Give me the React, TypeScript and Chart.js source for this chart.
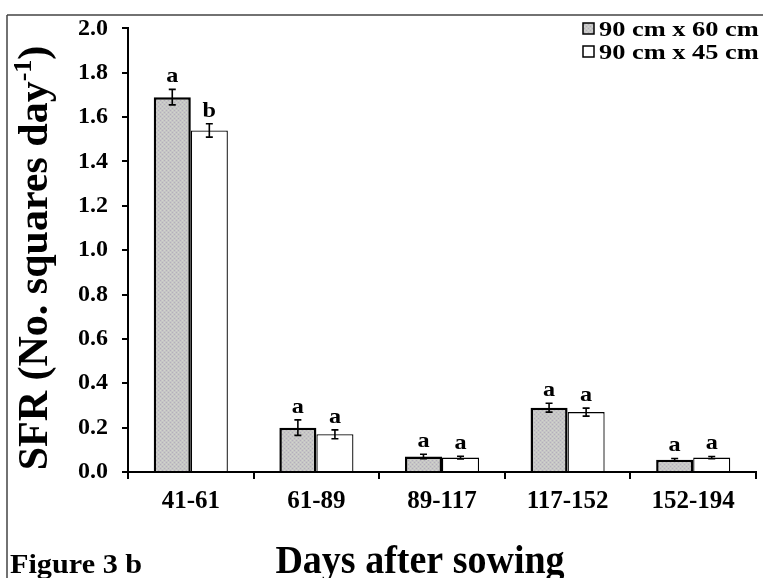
import React, { useEffect, useRef } from "react";
import { Chart, registerables } from "chart.js";

Chart.register(...registerables);

const categories = ["41-61", "61-89", "89-117", "117-152", "152-194"];
const seriesNames = ["90 cm x 60 cm", "90 cm x 45 cm"];
const wide = [1.69, 0.2, 0.07, 0.29, 0.055];
const narrow = [1.54, 0.17, 0.065, 0.27, 0.065];
const wideErr = [0.035, 0.035, 0.01, 0.02, 0.006];
const narrowErr = [0.03, 0.02, 0.006, 0.018, 0.005];
const wideLetters = ["a", "a", "a", "a", "a"];
const narrowLetters = ["b", "a", "a", "a", "a"];
const yTicks = [0, 0.2, 0.4, 0.6, 0.8, 1.0, 1.2, 1.4, 1.6, 1.8, 2.0];

const SERIF = '"Liberation Serif", "Times New Roman", serif';

function makePattern(): CanvasPattern | string {
  const c = document.createElement("canvas");
  c.width = 4;
  c.height = 4;
  const g = c.getContext("2d");
  if (!g) return "#c0c0c0";
  g.fillStyle = "#c6c6c6";
  g.fillRect(0, 0, 4, 4);
  g.fillStyle = "#b4aebb";
  g.fillRect(0, 0, 1, 1);
  g.fillRect(2, 2, 1, 1);
  g.fillStyle = "#d2d5cb";
  g.fillRect(2, 0, 1, 1);
  g.fillRect(0, 2, 1, 1);
  const p = g.createPattern(c, "repeat");
  return p || "#c0c0c0";
}

function stretchedText(
  ctx: CanvasRenderingContext2D,
  text: string,
  x: number,
  y: number,
  sx: number,
  align: "left" | "center"
) {
  ctx.save();
  ctx.translate(x, y);
  ctx.scale(sx, 1);
  ctx.textAlign = align;
  ctx.fillText(text, 0, 0);
  ctx.restore();
}

const extrasPlugin = {
  id: "extras",
  afterDraw(chart: any) {
    const ctx = chart.ctx as CanvasRenderingContext2D;
    const y = chart.scales.y;
    const errs = [wideErr, narrowErr];
    const letters = [wideLetters, narrowLetters];
    const vals = [wide, narrow];
    ctx.save();
    // error bars and letters
    for (let d = 0; d < 2; d++) {
      const meta = chart.getDatasetMeta(d);
      meta.data.forEach((bar: any, i: number) => {
        const v = vals[d][i];
        const e = errs[d][i];
        const yt = y.getPixelForValue(v + e);
        const yb = y.getPixelForValue(v - e);
        const x = bar.x;
        ctx.strokeStyle = "#000";
        ctx.lineWidth = 1.6;
        ctx.beginPath();
        ctx.moveTo(x, yt);
        ctx.lineTo(x, yb);
        ctx.moveTo(x - 3.5, yt);
        ctx.lineTo(x + 3.5, yt);
        ctx.moveTo(x - 3.5, yb);
        ctx.lineTo(x + 3.5, yb);
        ctx.stroke();
        ctx.fillStyle = "#000";
        ctx.font = `bold 22px ${SERIF}`;
        ctx.textBaseline = "alphabetic";
        stretchedText(ctx, letters[d][i], x, yt - 7, 1.1, "center");
      });
    }
    // frame lines
    ctx.strokeStyle = "#444";
    ctx.lineWidth = 1.5;
    ctx.beginPath();
    ctx.moveTo(7, 15);
    ctx.lineTo(763, 15);
    ctx.moveTo(7, 15);
    ctx.lineTo(7, 578);
    ctx.stroke();

    // legend
    const fills = [chart.data.datasets[0].backgroundColor, "#ffffff"];
    ctx.font = `bold 22px ${SERIF}`;
    ctx.textBaseline = "alphabetic";
    for (let k = 0; k < 2; k++) {
      const top = 23 + k * 23;
      ctx.fillStyle = fills[k];
      ctx.fillRect(583, top, 11, 11);
      ctx.strokeStyle = "#000";
      ctx.lineWidth = 1.5;
      ctx.strokeRect(583, top, 11, 11);
      ctx.fillStyle = "#000";
      stretchedText(ctx, seriesNames[k], 599, top + 13, 1.2, "left");
    }

    // y title (rotated, with superscript)
    ctx.save();
    ctx.translate(47, 258);
    ctx.rotate(-Math.PI / 2);
    const big = `bold 42px ${SERIF}`;
    const small = `bold 26px ${SERIF}`;
    const p1 = "SFR (No. squares day";
    const p2 = "-1";
    const p3 = ")";
    ctx.font = big;
    const w1 = ctx.measureText(p1).width;
    const w3 = ctx.measureText(p3).width;
    ctx.font = small;
    const w2 = ctx.measureText(p2).width;
    const total = w1 + w2 + w3;
    let cx = -total / 2;
    ctx.fillStyle = "#000";
    ctx.textAlign = "left";
    ctx.font = big;
    ctx.fillText(p1, cx, 0);
    cx += w1;
    ctx.font = small;
    ctx.fillText(p2, cx, -16);
    cx += w2;
    ctx.font = big;
    ctx.fillText(p3, cx, 0);
    ctx.restore();

    // x title
    ctx.fillStyle = "#000";
    ctx.font = `bold 40px ${SERIF}`;
    stretchedText(ctx, "Days after sowing", 420, 573, 0.95, "center");

    // figure label
    ctx.font = `bold 28px ${SERIF}`;
    stretchedText(ctx, "Figure 3 b", 10, 573, 1.08, "left");
    ctx.restore();
  },
};

export default function App() {
  const ref = useRef<HTMLCanvasElement | null>(null);
  useEffect(() => {
    if (!ref.current) return;
    const pattern = makePattern();
    const chart = new Chart(ref.current, {
      type: "bar",
      data: {
        labels: categories,
        datasets: [
          {
            label: seriesNames[0],
            data: wide,
            backgroundColor: pattern as any,
            borderColor: "#000",
            borderWidth: 2.5,
            categoryPercentage: 0.59,
            barPercentage: 1.0,
          },
          {
            label: seriesNames[1],
            data: narrow,
            backgroundColor: "#ffffff",
            borderColor: "#000",
            borderWidth: 1.3,
            categoryPercentage: 0.59,
            barPercentage: 1.0,
          },
        ],
      },
      options: {
        responsive: false,
        animation: false,
        layout: { padding: { top: 28, right: 7, left: 0, bottom: 0 } },
        plugins: { legend: { display: false }, tooltip: { enabled: false } },
        scales: {
          x: {
            grid: {
              display: true,
              drawOnChartArea: false,
              drawTicks: true,
              tickLength: 7,
              color: "#000",
              lineWidth: 2,
              offset: true,
            },
            border: { display: true, color: "#000", width: 2 },
            ticks: {
              color: "#000",
              font: { family: SERIF, size: 25, weight: "bold" },
              padding: 8,
              maxRotation: 0,
            },
            afterFit: (s: any) => {
              s.height = 106;
            },
          },
          y: {
            min: 0,
            max: 2,
            afterBuildTicks: (s: any) => {
              s.ticks = yTicks.map((v) => ({ value: v }));
            },
            grid: {
              display: true,
              drawOnChartArea: false,
              drawTicks: true,
              tickLength: 6,
              color: "#000",
              lineWidth: 2,
            },
            border: { display: true, color: "#000", width: 2 },
            ticks: {
              color: "#000",
              font: { family: SERIF, size: 24, weight: "bold" },
              padding: 14,
              callback: (v: any) => Number(v).toFixed(1),
            },
            afterFit: (s: any) => {
              s.width = 128;
            },
          },
        },
      },
      plugins: [extrasPlugin],
    });
    return () => chart.destroy();
  }, []);
  return (
    <div style={{ position: "fixed", left: 0, top: 0, width: 763, height: 578, background: "#fff" }}>
      <canvas ref={ref} width={763} height={578} style={{ width: 763, height: 578, display: "block" }} />
    </div>
  );
}
